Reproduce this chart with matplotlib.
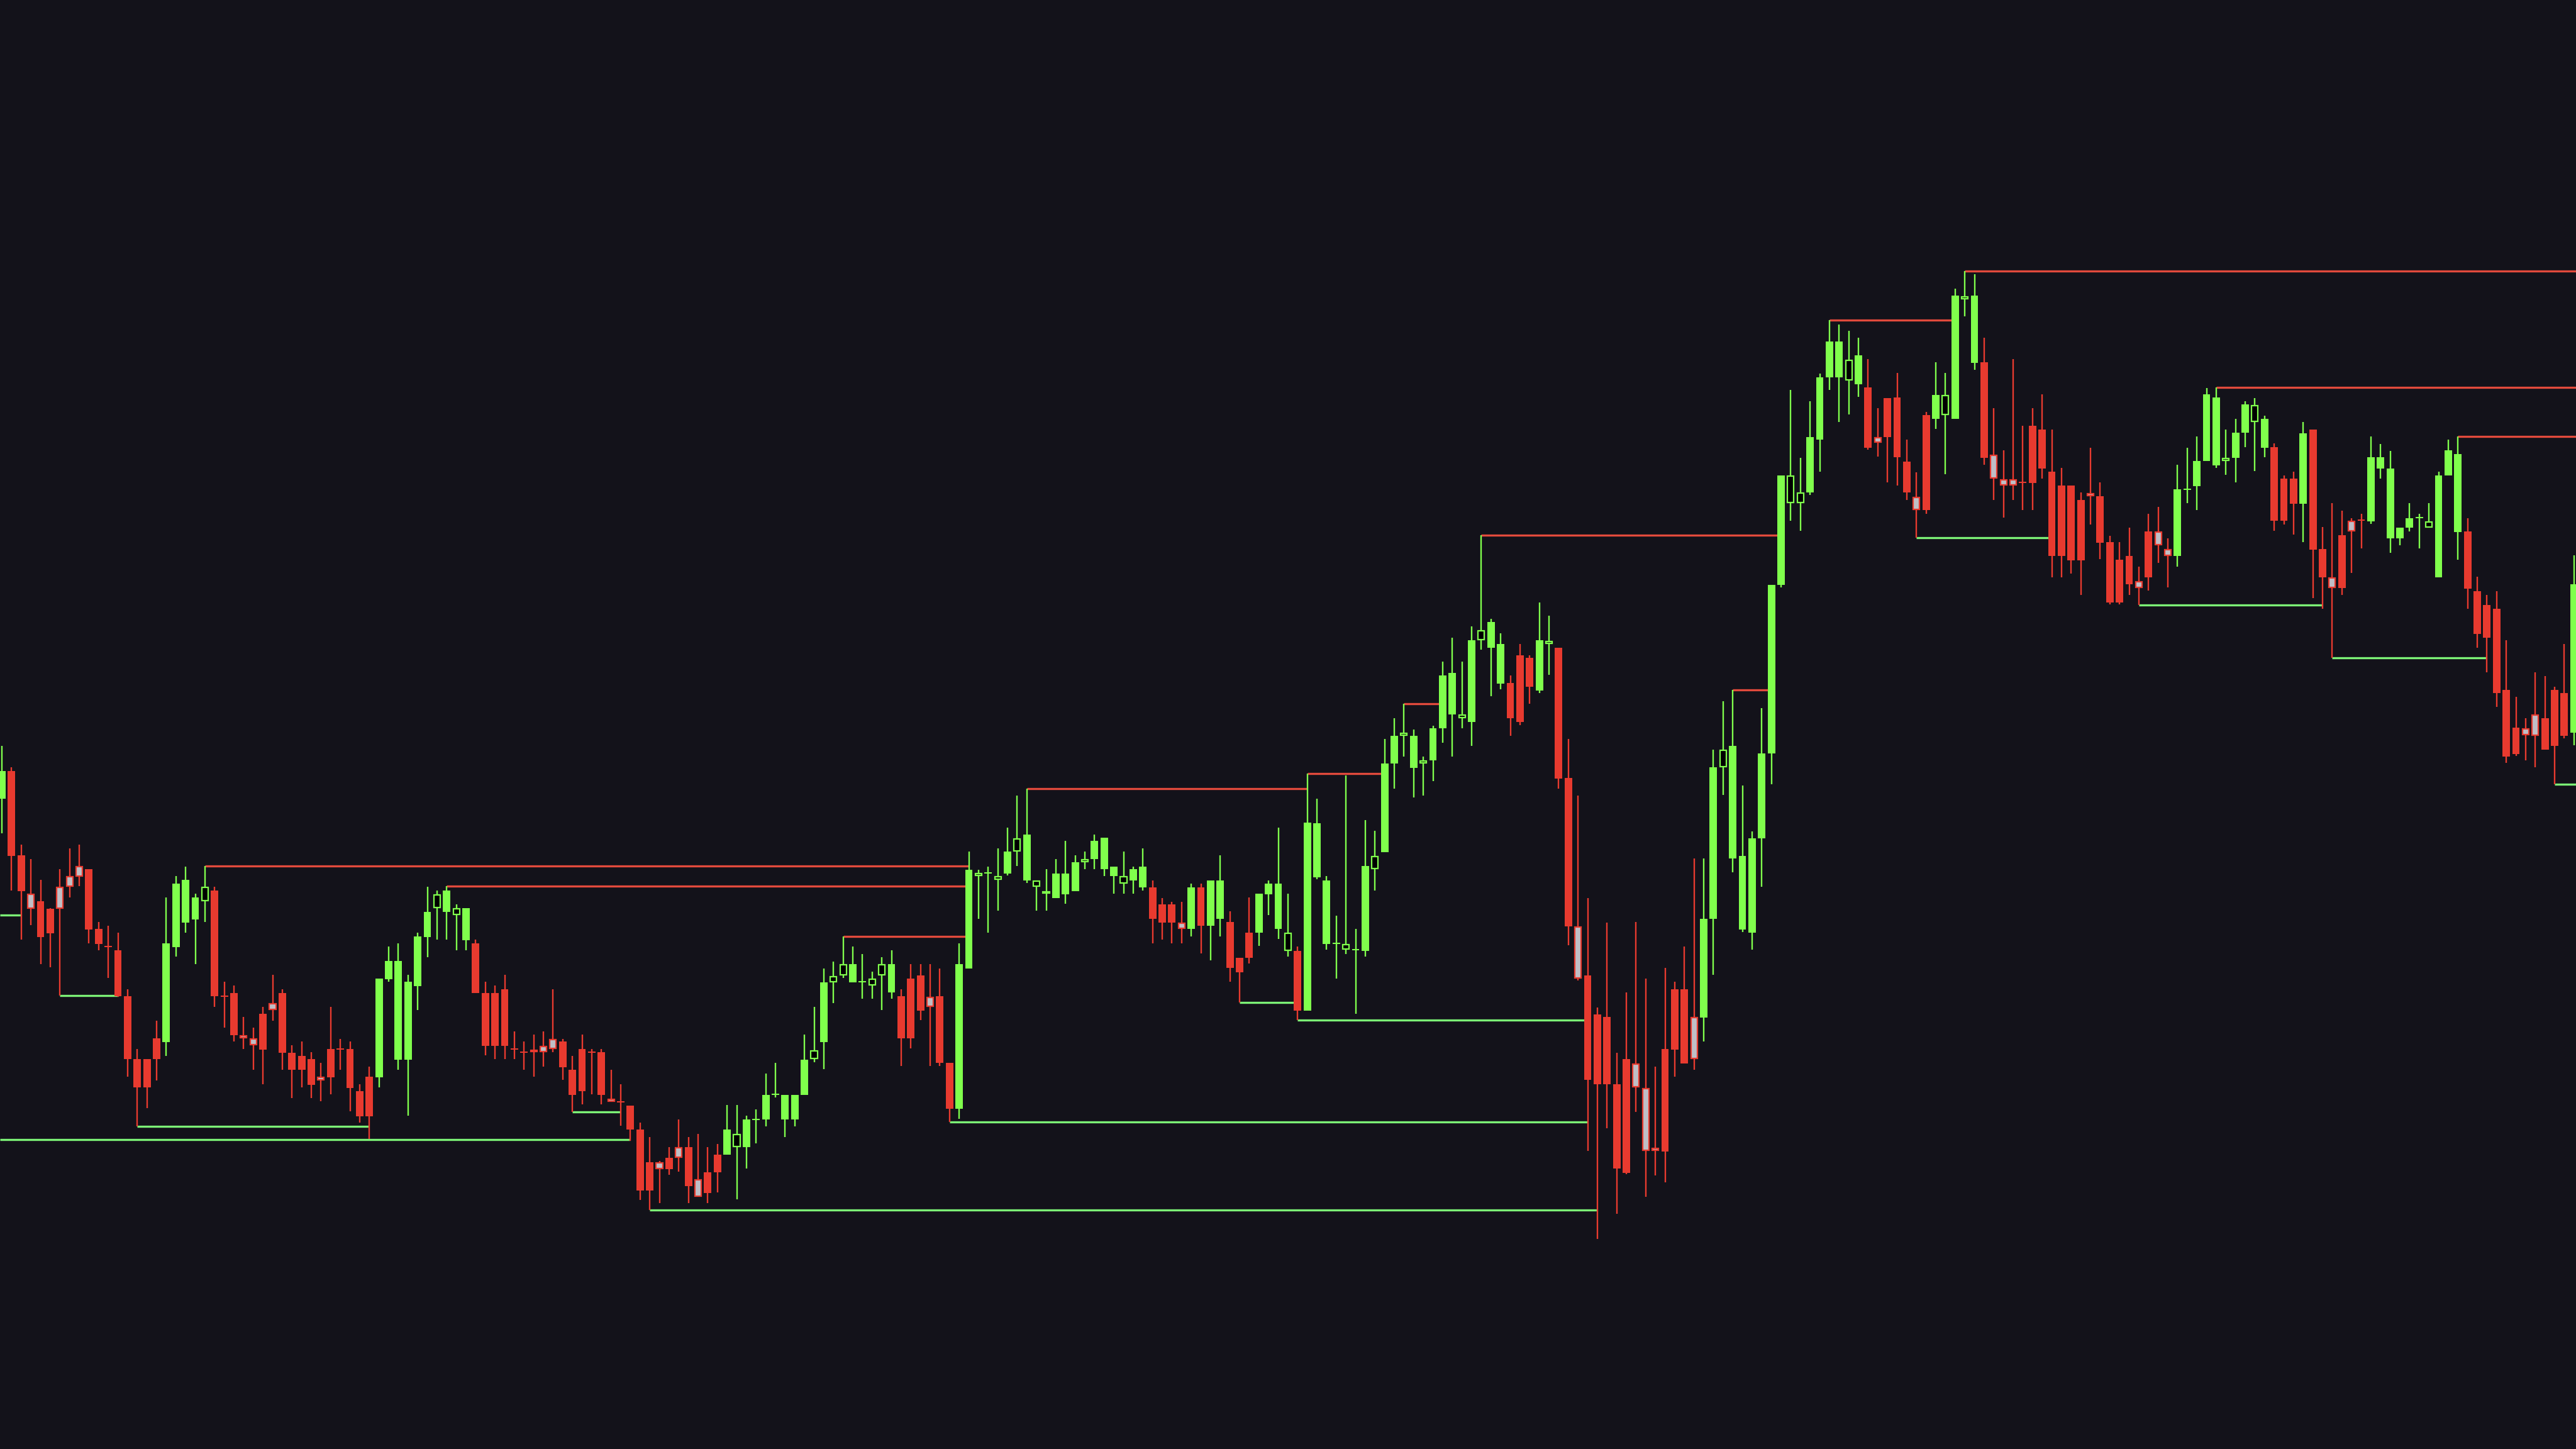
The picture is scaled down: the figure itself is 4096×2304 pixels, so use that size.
import numpy as np
import matplotlib
matplotlib.use("Agg")
import matplotlib.pyplot as plt

# OHLC values, 10 candles per line
opens = [
    103.4, 107.8, 94.4, 88.3, 87.1, 85.9, 89.4, 91.1, 92.7, 92.2,
    82.7, 80.0, 79.3, 72.0, 62.0, 62.0, 65.3, 64.7, 79.8, 83.7,
    84.2, 87.1, 88.8, 72.1, 72.5, 65.8, 65.3, 69.2, 70.9, 72.5,
    63.0, 62.5, 62.0, 59.2, 63.6, 63.7, 63.6, 56.9, 59.2, 59.1,
    74.7, 61.9, 61.9, 73.6, 81.4, 86.0, 85.45, 84.9, 80.9, 80.4,
    72.55, 72.55, 73.1, 63.7, 63.2, 63.5, 64.1, 65.2, 64.8, 60.3,
    63.6, 63.2, 63.1, 55.7, 55.3, 54.6, 50.8, 45.65, 45.6, 46.3,
    48.0, 48.0, 42.9, 44.0, 46.8, 46.8, 48.0, 48.0, 52.3, 52.4,
    56.3, 52.4, 52.4, 56.35, 62.0, 64.7, 74.2, 75.3, 74.2, 74.2,
    73.7, 75.3, 72.6, 72.0, 74.8, 75.3, 71.9, 72.0, 61.4, 54.1,
    76.4, 91.1, 91.5, 90.5, 91.5, 95.0, 90.4, 89.4, 88.3, 87.6,
    88.2, 88.7, 93.3, 93.8, 92.2, 91.1, 89.9, 90.4, 89.3, 89.3,
    86.6, 86.6, 83.7, 82.7, 89.3, 83.2, 84.3, 83.8, 78.1, 82.1,
    82.1, 88.2, 82.7, 79.2, 79.2, 69.7, 90.9, 80.3, 80.3, 79.4,
    79.3, 79.2, 92.2, 94.9, 109.0, 113.4, 108.3, 109.0, 109.5, 114.6,
    116.8, 116.2, 115.6, 128.6, 127.4, 121.7, 121.8, 126.2, 125.8, 120.6,
    128.0, 127.4, 106.7, 83.1, 75.3, 69.1, 68.7, 58.0, 62.0, 61.3,
    57.4, 47.9, 63.6, 73.1, 73.1, 68.7, 68.6, 84.3, 108.4, 93.9,
    82.6, 82.1, 97.1, 110.6, 137.45, 150.4, 150.4, 152.1, 160.5, 170.45,
    170.45, 169.9, 169.35, 168.8, 160.9, 167.15, 167.15, 157.0, 151.4, 164.4,
    163.85, 164.4, 163.85, 182.8, 172.7, 172.8, 158.1, 154.2, 154.2, 153.8,
    162.7, 162.1, 155.4, 153.2, 153.2, 150.9, 152.0, 151.5, 144.2, 141.4,
    142.0, 138.0, 145.9, 145.9, 143.1, 142.0, 152.5, 153.1, 157.1, 156.4,
    157.1, 157.6, 161.6, 163.3, 159.2, 159.3, 154.3, 154.35, 150.3, 162.1,
    143.1, 138.6, 145.3, 147.6, 147.8, 147.5, 155.9, 144.8, 144.8, 146.5,
    148.0, 146.5, 138.6, 154.8, 145.8, 145.9, 136.4, 134.2, 133.6, 120.7,
    114.7, 114.6, 116.8, 116.2, 120.7, 120.2, 113.9,
]
highs = [
    111.8, 108.4, 96.1, 93.8, 90.5, 86.0, 92.2, 95.5, 96.1, 92.2,
    83.8, 83.2, 82.1, 73.1, 63.6, 62.0, 68.1, 87.7, 91.1, 92.6,
    88.3, 92.7, 89.4, 74.3, 73.7, 68.7, 67.0, 70.3, 75.4, 73.1,
    64.2, 64.8, 63.1, 61.4, 70.3, 65.2, 64.8, 58.0, 60.8, 74.8,
    79.9, 80.4, 75.4, 82.1, 89.4, 88.8, 89.5, 86.6, 86.0, 81.0,
    74.3, 73.7, 75.4, 66.4, 64.8, 65.9, 66.4, 73.1, 65.2, 62.5,
    65.9, 63.6, 63.6, 60.3, 58.0, 54.6, 51.9, 49.6, 45.8, 48.0,
    52.4, 49.6, 50.1, 48.0, 48.5, 54.7, 54.7, 53.0, 54.05, 59.7,
    61.4, 56.35, 56.35, 65.9, 70.3, 76.4, 77.5, 81.5, 79.9, 78.7,
    75.9, 78.2, 79.3, 73.1, 77.1, 77.1, 77.1, 76.4, 61.4, 80.4,
    95.0, 92.1, 92.6, 95.5, 98.85, 103.9, 105.0, 90.4, 92.2, 93.8,
    96.7, 94.4, 95.0, 97.75, 97.2, 92.6, 95.0, 92.6, 95.5, 90.4,
    87.6, 87.0, 87.0, 89.9, 89.9, 90.4, 94.4, 85.5, 78.1, 87.7,
    88.3, 90.4, 98.85, 88.3, 79.9, 107.4, 103.4, 91.1, 84.8, 107.1,
    82.7, 100.0, 98.3, 112.9, 116.2, 118.5, 114.4, 110.1, 115.0, 125.2,
    129.0, 125.2, 130.8, 145.3, 132.0, 129.7, 123.0, 128.0, 126.2, 134.65,
    132.5, 127.4, 112.9, 103.9, 87.65, 70.2, 83.7, 63.0, 72.6, 83.8,
    74.8, 60.8, 76.5, 74.3, 79.9, 93.9, 93.9, 111.2, 118.9, 120.7,
    105.5, 98.2, 117.8, 137.45, 154.8, 168.4, 157.6, 166.6, 171.0, 179.5,
    178.8, 177.8, 176.7, 173.3, 165.5, 167.15, 171.1, 160.5, 155.3, 164.9,
    172.8, 171.1, 184.5, 187.3, 186.8, 176.7, 165.5, 158.8, 173.3, 162.7,
    165.5, 167.7, 162.1, 156.0, 153.2, 152.1, 159.2, 153.7, 145.2, 144.2,
    146.5, 140.3, 148.7, 149.8, 144.8, 156.5, 159.2, 161.0, 168.7, 168.8,
    162.1, 163.8, 166.6, 167.1, 164.3, 159.9, 154.8, 155.4, 163.3, 162.1,
    146.6, 150.4, 149.2, 148.0, 148.7, 161.0, 159.85, 158.75, 146.5, 150.4,
    148.7, 150.4, 155.4, 160.5, 161.05, 148.0, 138.7, 135.8, 136.4, 128.6,
    119.6, 116.2, 123.5, 122.9, 121.2, 128.0, 142.1,
]
lows = [
    97.9, 88.8, 81.0, 83.3, 77.1, 76.6, 72.1, 87.7, 89.5, 80.4,
    79.3, 74.9, 71.9, 59.2, 51.3, 54.2, 58.6, 62.5, 78.3, 82.1,
    77.1, 83.8, 70.3, 67.0, 64.8, 63.6, 60.3, 58.0, 68.1, 60.3,
    55.8, 57.5, 55.8, 55.3, 56.4, 60.3, 53.7, 51.9, 49.3, 57.5,
    74.35, 60.3, 53.0, 69.8, 78.2, 81.0, 81.0, 79.3, 79.3, 72.55,
    62.6, 62.0, 62.0, 62.0, 60.3, 59.2, 60.8, 63.1, 58.7, 53.6,
    54.8, 56.4, 54.8, 55.2, 51.4, 49.0, 39.6, 38.0, 39.1, 43.6,
    44.1, 39.1, 40.1, 39.1, 40.8, 46.8, 39.7, 44.6, 48.6, 51.3,
    55.9, 49.65, 51.3, 56.35, 61.5, 60.4, 70.9, 74.9, 74.2, 71.6,
    71.6, 69.8, 71.6, 60.9, 63.7, 68.2, 60.9, 60.9, 52.05, 52.5,
    76.4, 84.3, 82.1, 85.6, 91.2, 92.7, 90.0, 85.6, 85.6, 87.6,
    86.7, 88.7, 92.25, 92.25, 91.1, 88.3, 88.3, 88.3, 88.8, 80.4,
    81.0, 80.4, 80.4, 81.5, 78.8, 77.7, 81.5, 74.3, 71.0, 77.2,
    80.0, 84.9, 81.1, 78.3, 68.2, 69.7, 90.6, 79.4, 74.8, 78.7,
    69.2, 78.3, 88.8, 94.9, 105.0, 110.1, 103.6, 103.9, 106.2, 112.3,
    110.1, 114.6, 111.8, 127.1, 119.7, 120.8, 113.4, 115.15, 118.5, 120.2,
    123.1, 105.0, 80.1, 74.5, 47.45, 33.4, 51.0, 37.4, 43.7, 53.65,
    40.1, 43.5, 42.4, 59.2, 61.3, 60.3, 64.8, 75.4, 104.0, 91.7,
    82.2, 79.4, 89.4, 105.7, 137.0, 147.6, 146.0, 151.7, 155.4, 168.4,
    163.3, 164.5, 167.3, 158.9, 157.8, 153.7, 153.2, 150.9, 144.9, 148.7,
    162.2, 155.0, 163.85, 180.1, 171.6, 156.5, 150.9, 148.1, 150.9, 149.3,
    149.3, 154.3, 138.6, 138.6, 139.2, 135.8, 147.0, 141.5, 134.3, 134.3,
    135.8, 134.2, 136.5, 140.9, 137.0, 140.3, 150.4, 149.3, 157.1, 156.0,
    154.9, 153.7, 159.3, 155.5, 157.7, 146.0, 147.0, 145.4, 144.2, 135.3,
    133.6, 125.85, 135.8, 139.3, 143.2, 147.1, 154.35, 142.5, 143.7, 145.9,
    143.2, 146.5, 138.6, 154.8, 141.4, 133.6, 127.4, 123.5, 118.0, 109.1,
    110.2, 109.5, 108.4, 111.2, 105.7, 113.0, 111.9,
]
closes = [
    107.8, 94.3, 88.7, 85.9, 81.4, 82.0, 85.9, 89.4, 91.0, 82.6,
    80.3, 79.8, 72.0, 62.0, 57.5, 57.5, 62.0, 80.4, 89.9, 90.5,
    87.7, 89.4, 72.0, 71.9, 65.8, 65.3, 64.2, 63.5, 69.8, 63.0,
    60.3, 60.3, 57.9, 58.6, 59.1, 63.5, 57.4, 52.9, 52.9, 74.8,
    77.6, 77.6, 74.3, 81.5, 85.45, 88.2, 88.8, 86.0, 86.0, 72.55,
    64.1, 64.1, 64.1, 63.5, 63.0, 63.1, 63.1, 63.6, 60.7, 56.3,
    56.9, 63.0, 56.3, 55.2, 55.1, 50.8, 41.1, 41.1, 44.5, 44.5,
    46.3, 41.8, 40.1, 40.7, 44.0, 50.8, 50.1, 52.4, 52.5, 56.35,
    56.5, 56.35, 56.35, 61.95, 63.4, 74.2, 75.2, 77.1, 77.1, 74.4,
    74.8, 77.1, 77.1, 65.3, 65.3, 69.7, 70.3, 61.4, 54.1, 77.1,
    92.1, 91.6, 91.7, 91.1, 95.0, 97.1, 97.75, 90.4, 88.7, 91.5,
    91.5, 93.3, 93.8, 96.7, 97.2, 92.6, 91.1, 92.2, 92.6, 84.3,
    83.7, 83.7, 82.7, 89.3, 83.2, 90.4, 90.4, 76.5, 75.8, 78.1,
    88.3, 89.9, 89.9, 82.1, 69.7, 99.6, 99.5, 90.45, 80.5, 80.3,
    79.5, 92.7, 94.3, 109.0, 113.4, 113.95, 113.4, 109.5, 114.6, 123.0,
    123.4, 116.8, 128.6, 130.2, 131.5, 128.0, 116.2, 115.6, 121.25, 128.6,
    128.5, 106.6, 83.1, 74.8, 58.7, 58.0, 58.0, 44.65, 43.9, 57.5,
    47.4, 47.4, 47.3, 63.5, 61.3, 62.0, 84.3, 108.4, 111.2, 111.8,
    94.3, 97.1, 110.6, 137.45, 154.8, 154.8, 152.1, 160.9, 170.45, 176.1,
    176.1, 173.2, 173.9, 159.2, 160.0, 160.9, 157.7, 152.1, 149.3, 149.3,
    167.6, 167.6, 183.4, 183.3, 183.4, 157.6, 154.3, 153.2, 153.2, 153.6,
    153.6, 155.9, 142.0, 142.0, 141.3, 141.3, 151.5, 144.1, 134.6, 134.6,
    137.5, 136.9, 138.6, 143.7, 142.0, 152.6, 152.7, 157.1, 167.7, 167.2,
    157.6, 161.6, 166.1, 166.0, 163.8, 147.6, 147.6, 150.3, 161.5, 143.0,
    138.6, 136.9, 136.9, 145.9, 147.6, 157.7, 157.7, 155.9, 146.5, 148.0,
    148.2, 147.5, 154.8, 158.8, 158.2, 136.8, 129.6, 129.0, 120.2, 110.1,
    110.5, 113.5, 113.4, 111.2, 111.8, 113.4, 137.5,
]
# candle style: G green, R red, H hollow green, X grey body with red edge
kinds = (
    "GRRXRRXXXR" "RRRRRRRGGG" "GHRRRXXRXR" "RRRXRRRRRG" "GGGGGHGHGR"
    "RRRRRXXXRR" "RRRXRRRRXR" "XRXRRGHGGG" "GGGGHGHHGG" "HHGRRRXRRG"
    "GHGHGHGHHG" "GGHGGGHGGR" "RRXGRGGRRR" "GGGHRGGGGH" "GGHGGHGHGG"
    "GHGHGGRRRG" "HRRXRRRRRX" "XXRRRXGGHG" "GGGGGHHGGG" "GHGRXRRRXR"
    "GHGHGRXXXR" "RRRRRRXRRR" "RXRXXGGGGG" "HGGHGRRRGR" "RXRXRGGGGG"
    "GHGGGRRRRR" "RXXRRRG"
)

# horizontal levels: start / end candle index (None = beyond the visible range)
res_start = [21, 46, 87, 106, 135, 145, 153, 179, 189, 203, 229, 254]
res_end = [100, 100, 100, 135, 143, 149, 184, 183, 202, None, None, None]
res_price = [92.7, 89.5, 81.5, 105.0, 107.4, 118.5, 145.3, 120.7, 179.5, 187.3, 168.8, 161.05]

sup_start = [None, None, 6, 14, 59, 67, 98, 128, 134, 198, 221, 241, 264]
sup_end = [2, 65, 12, 38, 64, 165, 164, 134, 164, 212, 240, 257, None]
sup_price = [84.9, 49.2, 72.1, 51.3, 53.6, 38.0, 52.05, 71.0, 68.2, 144.9, 134.2, 125.85, 105.7]

bg = "#13121a"
green = "#80ff4c"
red = "#e83a2f"
grey = "#bfbfc6"
line_green = "#7cf276"
line_red = "#e24a3c"

n = len(opens)
x = np.arange(n)
o = np.array(opens)
c = np.array(closes)
lo_x, hi_x = -3 / 15.375, (4096 - 3) / 15.375

fig = plt.figure(figsize=(40.96, 23.04), dpi=100)
fig.patch.set_facecolor(bg)
ax = fig.add_axes([0, 0, 1, 1])
ax.set_facecolor(bg)
ax.axis("off")
ax.set_xlim(lo_x, hi_x)
ax.set_ylim(0, 230.4)

# levels
for s, e, p in zip(res_start, res_end, res_price):
    ax.hlines(p, s if s is not None else lo_x, e if e is not None else hi_x,
              colors=line_red, linewidth=2.4, zorder=1)
for s, e, p in zip(sup_start, sup_end, sup_price):
    ax.hlines(p, s if s is not None else lo_x, e if e is not None else hi_x,
              colors=line_green, linewidth=2.4, zorder=1)

# wicks
wick_cols = [green if k in "GH" else red for k in kinds]
ax.vlines(x, lows, highs, colors=wick_cols, linewidth=1.7, zorder=2)

# bodies
bottoms = np.minimum(o, c)
heights = np.maximum(np.abs(c - o), 0.2)
filled = np.array([k in "GR" for k in kinds])
face = [green if k == "G" else red for k in kinds]
ax.bar(x[filled], heights[filled], bottom=bottoms[filled], width=0.78,
       color=[f for f, m in zip(face, filled) if m], linewidth=0, zorder=3)

outl = ~filled
o_face = ["#000000" if k == "H" else grey for k in kinds]
o_edge = [green if k == "H" else red for k in kinds]
ax.bar(x[outl], np.maximum(heights[outl] - 0.2, 0.15), bottom=bottoms[outl] + 0.1,
       width=0.66,
       color=[f for f, m in zip(o_face, outl) if m],
       edgecolor=[f for f, m in zip(o_edge, outl) if m],
       linewidth=1.6, zorder=3)

fig.savefig("out.png", dpi=100, facecolor=bg)
